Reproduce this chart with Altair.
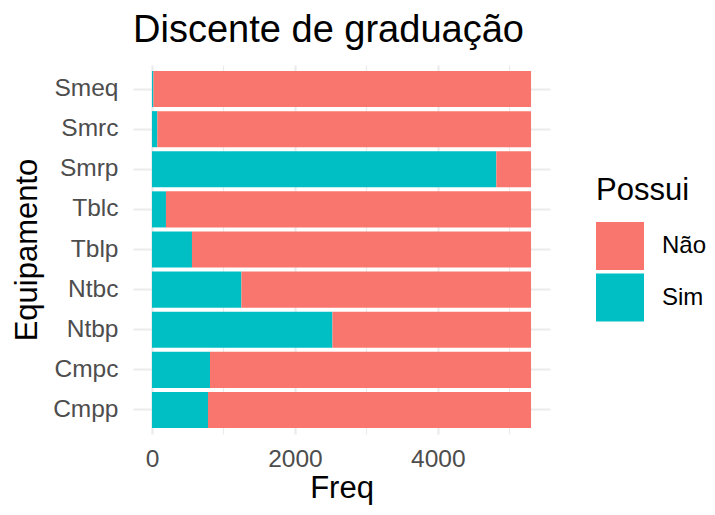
import altair as alt
import pandas as pd

equipamentos = ["Smeq", "Smrc", "Smrp", "Tblc", "Tblp", "Ntbc", "Ntbp", "Cmpc", "Cmpp"]
sim = [20, 75, 4818, 196, 560, 1251, 2525, 812, 784]
nao = [5284, 5229, 486, 5108, 4744, 4053, 2779, 4492, 4520]
x_ticks = [0, 1000, 2000, 3000, 4000, 5000]

rows = []
for e, s, n in zip(equipamentos, sim, nao):
    rows.append({"Equipamento": e, "Possui": "Sim", "Freq": s, "ord": 0})
    rows.append({"Equipamento": e, "Possui": "Não", "Freq": n, "ord": 1})
df = pd.DataFrame(rows)

FONT = "Liberation Sans"

chart = alt.Chart(df).mark_bar(strokeWidth=0).encode(
    x=alt.X("Freq:Q", stack="zero",
            scale=alt.Scale(domain=[-265.2, 5569.2], nice=False, zero=False),
            axis=alt.Axis(values=x_ticks, title="Freq",
                          labelExpr="datum.value % 2000 === 0 ? format(datum.value, 'd') : ''",
                          grid=True, ticks=False, domain=False,
                          gridColor="#EBEBEB",
                          gridWidth=alt.ConditionalAxisNumber(
                              condition={"test": "datum.value % 2000 === 0", "value": 2.2},
                              value=1.2),
                          labelFont=FONT, labelFontSize=24.5, labelColor="#4D4D4D",
                          labelPadding=13, labelFlush=False,
                          titleFont=FONT, titleFontSize=31, titleColor="black",
                          titleFontWeight="normal", titlePadding=3)),
    y=alt.Y("Equipamento:N", sort=equipamentos,
            scale=alt.Scale(paddingInner=0.1, paddingOuter=0.15),
            axis=alt.Axis(title="Equipamento", grid=True, ticks=False, domain=False,
                          bandPosition=0.5, gridColor="#EBEBEB", gridWidth=2.2,
                          labelFont=FONT, labelFontSize=24.5, labelColor="#4D4D4D",
                          labelPadding=15,
                          titleFont=FONT, titleFontSize=31, titleColor="black",
                          titleFontWeight="normal", titlePadding=9)),
    color=alt.Color("Possui:N",
                    scale=alt.Scale(domain=["Não", "Sim"], range=["#F8766D", "#00BFC4"]),
                    legend=alt.Legend(title="Possui", orient="none", legendX=463, legendY=111,
                                      symbolType="square", symbolSize=2304,
                                      symbolStrokeWidth=0, symbolOpacity=1,
                                      rowPadding=3.5, labelOffset=18,
                                      titleFont=FONT, titleFontSize=31, titleColor="black",
                                      titleFontWeight="normal", titlePadding=15,
                                      labelFont=FONT, labelFontSize=24, labelColor="black")),
    order=alt.Order("ord:Q", sort="ascending"),
).properties(
    width=417,
    height=369,
    title=alt.TitleParams("Discente de graduação", font=FONT, fontSize=38,
                          fontWeight="normal", color="black", anchor="middle",
                          frame="group", dx=-13, offset=15),
    autosize=alt.AutoSizeParams(type="none"),
    padding={"left": 125, "top": 57, "right": 157, "bottom": 73},
).configure_view(stroke=None)

chart.save("out.html", embed_options={"renderer": "svg", "actions": False})
